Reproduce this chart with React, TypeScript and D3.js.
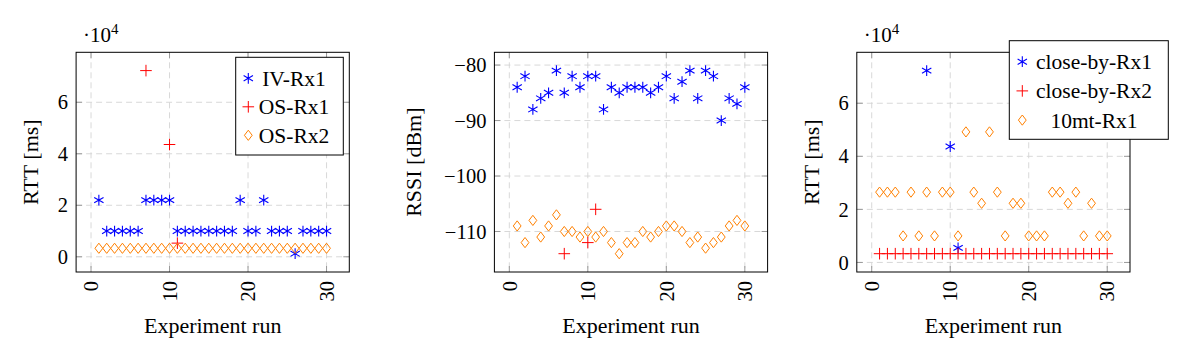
import React from "react";
import * as d3 from "d3";

// ---------- DATA ----------
const runs = [1,2,3,4,5,6,7,8,9,10,11,12,13,14,15,16,17,18,19,20,21,22,23,24,25,26,27,28,29,30];
const xTicks = [0, 10, 20, 30];

// Panel 1 (RTT, IV / OS)
const ivRx1 = [22000,10000,10000,10000,10000,10000,22000,22000,22000,22000,10000,10000,10000,10000,10000,10000,10000,10000,22000,10000,10000,22000,10000,10000,10000,1200,10000,10000,10000,10000];
const osRx1Runs = [7, 10, 11];
const osRx1 = [72300, 43600, 5300];
const osRx2 = [3300,3300,3300,3300,3300,3300,3300,3300,3300,3300,3300,3300,3300,3300,3300,3300,3300,3300,3300,3300,3300,3300,3300,3300,3300,3300,3300,3300,3300,3300];
const p1YTicks = [0, 20000, 40000, 60000];
const p1YTickLabels = ["0", "2", "4", "6"];

// Panel 2 (RSSI)
const rssiIvRx1 = [-84,-82,-88,-86,-85,-81,-85,-82,-84,-82,-82,-88,-84,-85,-84,-84,-84,-85,-84,-82,-86,-83,-81,-86,-81,-82,-90,-86,-87,-84];
const rssiOsRx1Runs = [7, 10, 11];
const rssiOsRx1 = [-114, -112, -106];
const rssiOsRx2 = [-109,-112,-108,-111,-109,-107,-110,-110,-111,-110,-111,-110,-112,-114,-112,-112,-110,-111,-110,-109,-109,-110,-112,-111,-113,-112,-111,-109,-108,-109];
const p2YTicks = [-110, -100, -90, -80];
const p2YTickLabels = ["\u2212110", "\u2212100", "\u221290", "\u221280"];

// Panel 3 (RTT, close-by / 10mt)
const closeRx1Runs = [7, 10, 11];
const closeRx1 = [72300, 43700, 5500];
const closeRx2 = [3300,3300,3300,3300,3300,3300,3300,3300,3300,3300,3300,3300,3300,3300,3300,3300,3300,3300,3300,3300,3300,3300,3300,3300,3300,3300,3300,3300,3300,3300];
const tenMtRx1 = [26500,26500,26500,10000,26500,10000,26500,10000,26500,26500,10000,49200,26500,22300,49200,26500,10000,22300,22300,10000,10000,10000,26500,26500,22300,26500,10000,22300,10000,10000];
const p3YTicks = [0, 20000, 40000, 60000];
const p3YTickLabels = ["0", "2", "4", "6"];

// ---------- STYLE ----------
const BLUE = "#0000ff";
const RED = "#ff0000";
const ORANGE = "#ff8000";
const FONT = "'Liberation Serif', 'Times New Roman', serif";

const TOP = 52.3;
const HEIGHT = 219.7;
const WIDTH = 273.2;

type Mark = "asterisk" | "plus" | "diamond";
type Series = { name: string; xs: number[]; ys: number[]; mark: Mark; color: string };
type Legend = { x: number; y: number; w: number; h: number; rowH: number; markX: number; textX: number };

function markerPath(mark: Mark): string {
  if (mark === "asterisk") {
    const r = 5.4;
    const segs: string[] = [];
    [90, 30, 150].forEach((a) => {
      const rad = (a * Math.PI) / 180;
      const dx = r * Math.cos(rad);
      const dy = r * Math.sin(rad);
      segs.push(`M${-dx},${-dy}L${dx},${dy}`);
    });
    return segs.join("");
  }
  if (mark === "plus") {
    const r = 5.8;
    return `M${-r},0L${r},0M0,${-r}L0,${r}`;
  }
  const w = 3.9, h = 5.1;
  return `M0,${-h}L${w},0L0,${h}L${-w},0Z`;
}

function Marker({ mark, color, x, y }: { mark: Mark; color: string; x: number; y: number }) {
  return (
    <path
      d={markerPath(mark)}
      transform={`translate(${x},${y})`}
      fill="none"
      stroke={color}
      strokeWidth={mark === "asterisk" ? 1.1 : 1}
    />
  );
}

type PanelProps = {
  left: number;
  series: Series[];
  yTicks: number[];
  yTickLabels: string[];
  yLabel: string;
  yLabelOffset: number;
  scaleLabel: boolean;
  legend?: Legend;
};

function Panel({ left, series, yTicks, yTickLabels, yLabel, yLabelOffset, scaleLabel, legend }: PanelProps) {
  const allX = series.flatMap((s) => s.xs);
  const allY = series.flatMap((s) => s.ys);
  const [xmin, xmax] = d3.extent(allX) as [number, number];
  const [ymin, ymax] = d3.extent(allY) as [number, number];
  const xpad = (xmax - xmin) * 0.1;
  const ypad = (ymax - ymin) * 0.1;
  const x = d3.scaleLinear().domain([xmin - xpad, xmax + xpad]).range([left, left + WIDTH]);
  const y = d3.scaleLinear().domain([ymin - ypad, ymax + ypad]).range([TOP + HEIGHT, TOP]);
  const right = left + WIDTH;
  const bottom = TOP + HEIGHT;
  const tickLen = 6;

  return (
    <g>
      {xTicks.map((t) => (
        <line key={"gx" + t} x1={x(t)} x2={x(t)} y1={TOP} y2={bottom} stroke="#d4d4d4" strokeWidth={0.9} strokeDasharray="6 4" />
      ))}
      {yTicks.map((t) => (
        <line key={"gy" + t} x1={left} x2={right} y1={y(t)} y2={y(t)} stroke="#d4d4d4" strokeWidth={0.9} strokeDasharray="6 4" />
      ))}
      {xTicks.map((t) => (
        <g key={"tx" + t}>
          <line x1={x(t)} x2={x(t)} y1={bottom} y2={bottom - tickLen} stroke="#9a9a9a" strokeWidth={1} />
          <line x1={x(t)} x2={x(t)} y1={TOP} y2={TOP + tickLen} stroke="#9a9a9a" strokeWidth={1} />
        </g>
      ))}
      {yTicks.map((t) => (
        <g key={"ty" + t}>
          <line x1={left} x2={left + tickLen} y1={y(t)} y2={y(t)} stroke="#9a9a9a" strokeWidth={1} />
          <line x1={right} x2={right - tickLen} y1={y(t)} y2={y(t)} stroke="#9a9a9a" strokeWidth={1} />
        </g>
      ))}
      {series.map((s) =>
        s.xs.map((xv, i) => (
          <Marker key={s.name + i} mark={s.mark} color={s.color} x={x(xv)} y={y(s.ys[i])} />
        ))
      )}
      <rect x={left} y={TOP} width={WIDTH} height={HEIGHT} fill="none" stroke="#000" strokeWidth={1} />
      {yTicks.map((t, i) => (
        <text key={"yl" + t} x={left - 8} y={y(t)} dy="0.35em" textAnchor="end" fontFamily={FONT} fontSize={20.5} fill="#000">
          {yTickLabels[i]}
        </text>
      ))}
      {xTicks.map((t) => (
        <text
          key={"xl" + t}
          transform={`translate(${x(t)},${bottom + 9}) rotate(-90)`}
          dy="0.35em"
          textAnchor="end"
          fontFamily={FONT}
          fontSize={20.5}
          fill="#000"
        >
          {t}
        </text>
      ))}
      <text x={left + WIDTH / 2} y={333} textAnchor="middle" fontFamily={FONT} fontSize={22} fill="#000">
        Experiment run
      </text>
      <text
        transform={`translate(${left - yLabelOffset},${TOP + HEIGHT / 2}) rotate(-90)`}
        dy="0.35em"
        textAnchor="middle"
        fontFamily={FONT}
        fontSize={22}
        fill="#000"
      >
        {yLabel}
      </text>
      {scaleLabel && (
        <text x={left + 7} y={42} fontFamily={FONT} fontSize={21} fill="#000">
          {"\u00b710"}
          <tspan dy={-8} fontSize={15}>4</tspan>
        </text>
      )}
      {legend && (
        <g>
          <rect x={legend.x} y={legend.y} width={legend.w} height={legend.h} fill="#fff" stroke="#000" strokeWidth={1} />
          {series.map((s, i) => {
            const cy = legend.y + 21 + i * legend.rowH;
            return (
              <g key={"lg" + s.name}>
                <Marker mark={s.mark} color={s.color} x={legend.markX} y={cy} />
                <text x={legend.textX} y={cy} dy="0.35em" textAnchor="middle" fontFamily={FONT} fontSize={21.5} fill="#000">
                  {s.name}
                </text>
              </g>
            );
          })}
        </g>
      )}
    </g>
  );
}

export default function App() {
  const p1: Series[] = [
    { name: "IV-Rx1", xs: runs, ys: ivRx1, mark: "asterisk", color: BLUE },
    { name: "OS-Rx1", xs: osRx1Runs, ys: osRx1, mark: "plus", color: RED },
    { name: "OS-Rx2", xs: runs, ys: osRx2, mark: "diamond", color: ORANGE },
  ];
  const p2: Series[] = [
    { name: "IV-Rx1", xs: runs, ys: rssiIvRx1, mark: "asterisk", color: BLUE },
    { name: "OS-Rx1", xs: rssiOsRx1Runs, ys: rssiOsRx1, mark: "plus", color: RED },
    { name: "OS-Rx2", xs: runs, ys: rssiOsRx2, mark: "diamond", color: ORANGE },
  ];
  const p3: Series[] = [
    { name: "close-by-Rx1", xs: closeRx1Runs, ys: closeRx1, mark: "asterisk", color: BLUE },
    { name: "close-by-Rx2", xs: runs, ys: closeRx2, mark: "plus", color: RED },
    { name: "10mt-Rx1", xs: runs, ys: tenMtRx1, mark: "diamond", color: ORANGE },
  ];

  return (
    <svg width={1189} height={349} style={{ display: "block", position: "absolute", left: 0, top: 0 }}>
      <rect width={1189} height={349} fill="#fff" />
      <Panel
        left={76.1}
        series={p1}
        yTicks={p1YTicks}
        yTickLabels={p1YTickLabels}
        yLabel="RTT [ms]"
        yLabelOffset={46}
        scaleLabel={true}
        legend={{ x: 235.7, y: 57.3, w: 107.6, h: 97.7, rowH: 28.5, markX: 248.3, textX: 294 }}
      />
      <Panel
        left={494.4}
        series={p2}
        yTicks={p2YTicks}
        yTickLabels={p2YTickLabels}
        yLabel="RSSI [dBm]"
        yLabelOffset={81}
        scaleLabel={false}
      />
      <Panel
        left={856.8}
        series={p3}
        yTicks={p3YTicks}
        yTickLabels={p3YTickLabels}
        yLabel="RTT [ms]"
        yLabelOffset={46}
        scaleLabel={true}
        legend={{ x: 1009.3, y: 40.7, w: 159, h: 98.6, rowH: 29.2, markX: 1022.3, textX: 1094 }}
      />
    </svg>
  );
}
